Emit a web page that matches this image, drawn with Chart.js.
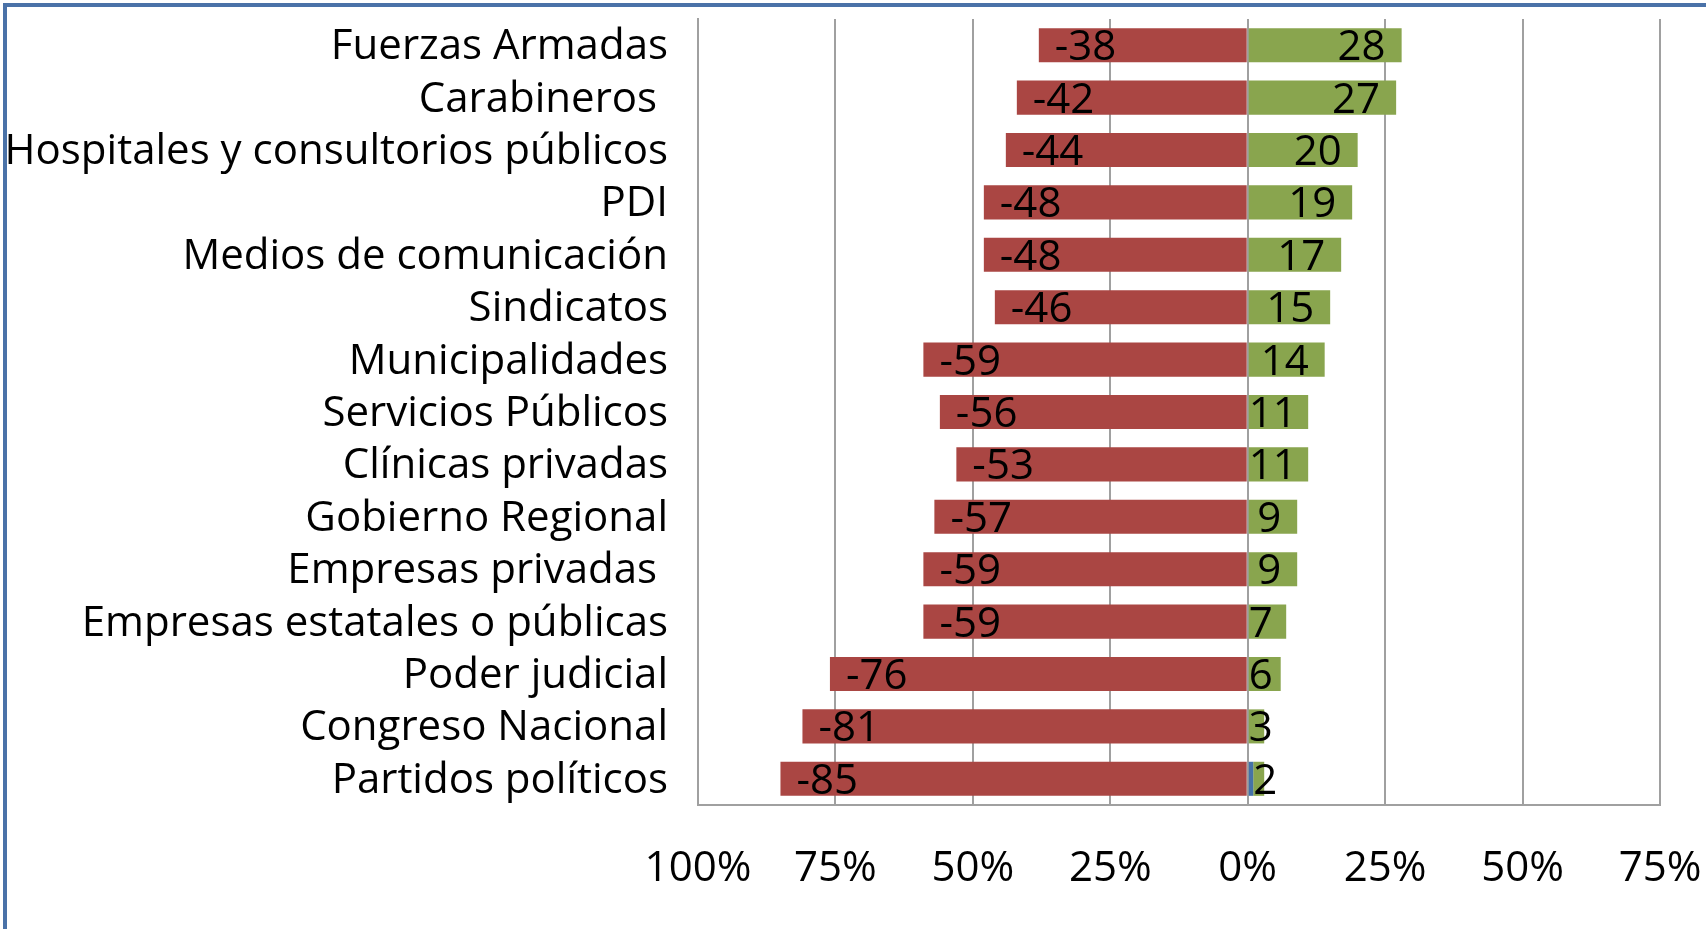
<!DOCTYPE html>
<html>
<head>
<meta charset="utf-8">
<script src="https://cdn.jsdelivr.net/npm/chart.js@4/dist/chart.umd.min.js"></script>
<style>
  body { margin: 0; background: #fff; overflow: hidden; }
  #wrap { position: relative; width: 1706px; height: 929px; }
  #frame { position: absolute; left: 3px; top: 3px; width: 1730px; height: 960px;
           border: 4px solid #4a72a8; box-sizing: border-box; pointer-events: none; }
</style>
</head>
<body>
<div id="wrap">
  <canvas id="trustChart" width="1706" height="929"></canvas>
  <div id="frame"></div>
</div>
<script>
// Data
const categories = [
  'Fuerzas Armadas', 'Carabineros ', 'Hospitales y consultorios públicos', 'PDI',
  'Medios de comunicación', 'Sindicatos', 'Municipalidades', 'Servicios Públicos',
  'Clínicas privadas', 'Gobierno Regional', 'Empresas privadas ',
  'Empresas estatales o públicas', 'Poder judicial', 'Congreso Nacional', 'Partidos políticos'
];
const negativeValues = [-38, -42, -44, -48, -48, -46, -59, -56, -53, -57, -59, -59, -76, -81, -85];
const neutralValues  = [0, 0, 0, 0, 0, 0, 0, 0, 0, 0, 0, 0, 0, 0, 1];
const positiveValues = [28, 27, 20, 19, 17, 15, 14, 11, 11, 9, 9, 7, 6, 3, 2];
const tickValues = [-100, -75, -50, -25, 0, 25, 50, 75];

const FONT = "'Open Sans', 'Noto Sans', sans-serif";
const FONT_SIZE = 42;

// keep the plot area where the layout padding puts it
function noScalePadding(scale) {
  scale.paddingLeft = 0;
  scale.paddingRight = 0;
  scale.paddingTop = 0;
  scale.paddingBottom = 0;
}

// Data labels drawn at the bar ends, Excel style
const barLabels = {
  id: 'barLabels',
  afterDatasetsDraw(chart) {
    const ctx = chart.ctx;
    ctx.save();
    ctx.font = FONT_SIZE + 'px ' + FONT;
    ctx.fillStyle = '#000';
    ctx.textAlign = 'left';
    ctx.textBaseline = 'middle';
    [0, 2].forEach(di => {
      const meta = chart.getDatasetMeta(di);
      const values = chart.data.datasets[di].data;
      meta.data.forEach((bar, i) => {
        const txt = String(values[i]);
        const w = ctx.measureText(txt).width;
        let x;
        if (values[i] < 0) {
          x = bar.x + 16;
        } else {
          x = Math.max(bar.x - 16 - w, bar.base);
        }
        ctx.fillText(txt, x, bar.y + 3);
      });
    });
    ctx.restore();
  }
};

const ctx = document.getElementById('trustChart').getContext('2d');
new Chart(ctx, {
  type: 'bar',
  data: {
    labels: categories,
    datasets: [
      { label: 'Desconfianza', data: negativeValues, backgroundColor: '#aa4643' },
      { label: 'Neutral', data: neutralValues, backgroundColor: '#4572a7' },
      { label: 'Confianza', data: positiveValues, backgroundColor: '#89a54e' }
    ]
  },
  options: {
    indexAxis: 'y',
    responsive: false,
    animation: false,
    barPercentage: 0.65,
    categoryPercentage: 1,
    layout: { padding: { top: 19, right: 46, left: 0, bottom: 0 } },
    plugins: { legend: { display: false }, tooltip: { enabled: false } },
    scales: {
      x: {
        stacked: true,
        min: -100,
        max: 75,
        afterBuildTicks: scale => { scale.ticks = tickValues.map(v => ({ value: v })); },
        grid: { color: '#a0a0a0', lineWidth: 2, drawTicks: false },
        border: { display: true, color: '#a0a0a0', width: 2 },
        ticks: {
          color: '#000',
          padding: 39,
          maxRotation: 0,
          autoSkip: false,
          font: { family: FONT, size: FONT_SIZE },
          callback: v => Math.abs(v) + '%'
        },
        afterFit: scale => { scale.height = 929 - 805; noScalePadding(scale); }
      },
      y: {
        stacked: true,
        grid: { display: false, drawTicks: false },
        border: { display: true, color: '#a0a0a0', width: 2 },
        ticks: {
          color: '#000',
          padding: 30,
          labelOffset: 2,
          autoSkip: false,
          font: { family: FONT, size: FONT_SIZE }
        },
        afterFit: scale => { scale.width = 698; noScalePadding(scale); }
      }
    }
  },
  plugins: [barLabels]
});
</script>
</body>
</html>
